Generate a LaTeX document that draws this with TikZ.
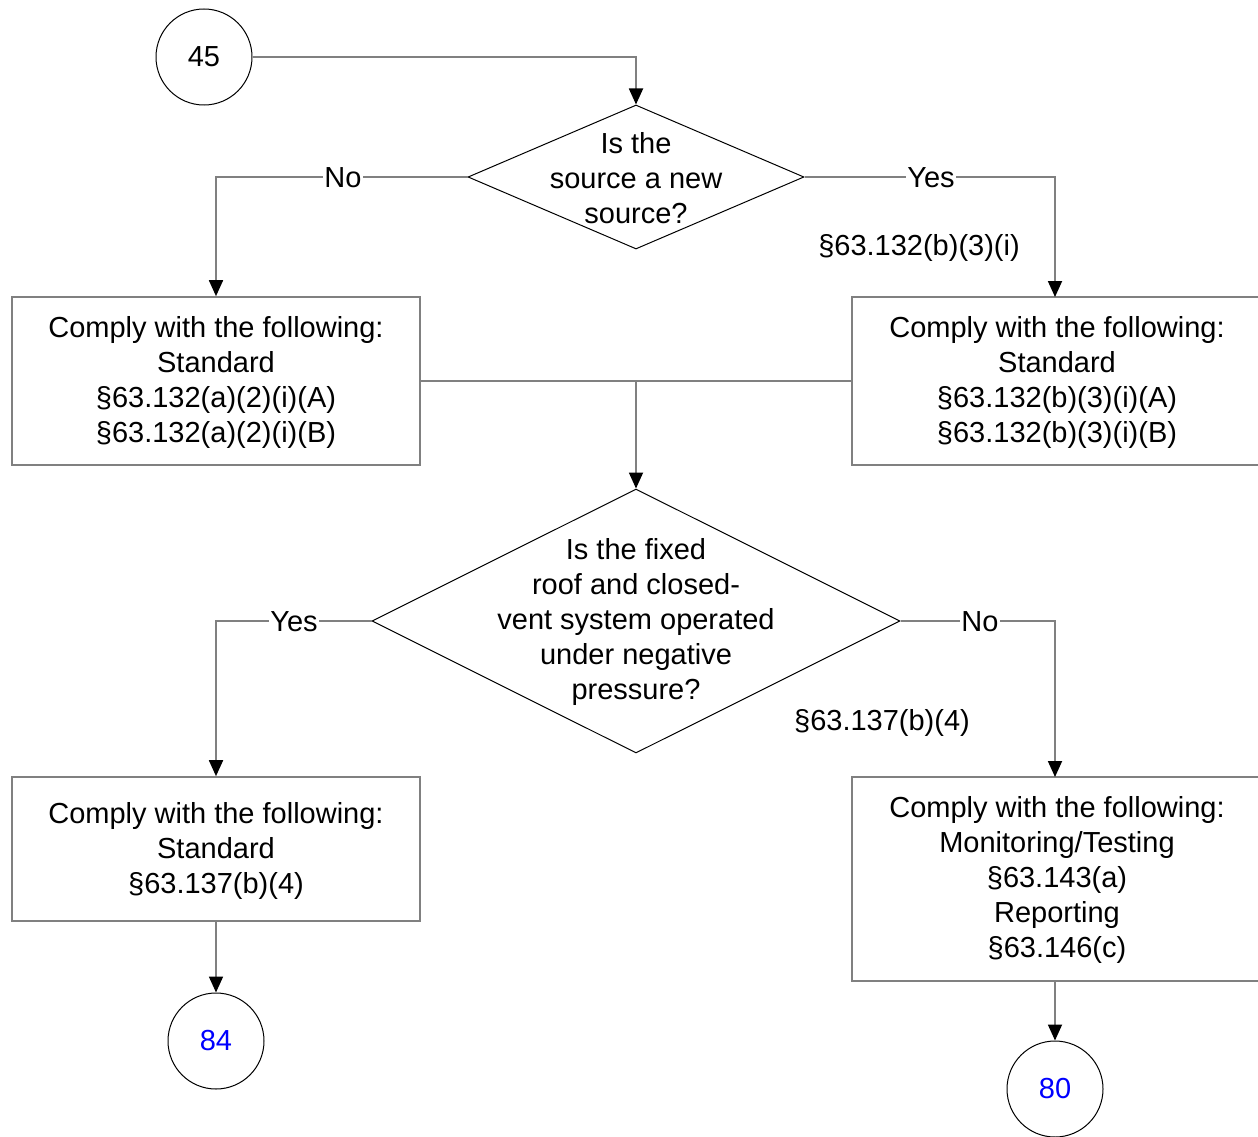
\documentclass[tikz,border=0pt]{standalone}
\usepackage{fontspec}
\setmainfont{Liberation Sans}
\usetikzlibrary{shapes.geometric,arrows.meta}
\definecolor{linegray}{RGB}{128,128,128}
\definecolor{numblue}{RGB}{0,0,255}
\begin{document}
\begin{tikzpicture}[x=1pt,y=-1pt,
  every node/.style={font=\fontsize{29}{35}\selectfont},
  circ/.style={circle,draw=black,line width=1pt,minimum size=96pt,inner sep=0pt},
  dia/.style={diamond,draw=black,line width=1pt,inner sep=0pt},
  box/.style={rectangle,draw=linegray,line width=1.6pt,inner sep=0pt},
  txt/.style={align=center,inner sep=0pt},
  conn/.style={draw=linegray,line width=1.8pt},
  arr/.style={conn,-{Triangle[width=14pt,length=16pt,color=black]}},
  lbl/.style={fill=white,inner sep=1pt}
]
\useasboundingbox (0,0) rectangle (1258,1137);
\fill[white] (0,0) rectangle (1258,1137);

\node[circ] (c45) at (204,57) {45};
\node[dia,minimum width=336pt,minimum height=144pt] (d1) at (636,177) {};
\node[txt] (t1) at (636,178) {Is the\\source a new\\source?};

\node[box,minimum width=408pt,minimum height=168pt] (b1) at (216,381) {};
\node[txt] (tb1) at (216,382) {Comply with the following:\\Standard\\§63.132(a)(2)(i)(A)\\§63.132(a)(2)(i)(B)};
\node[box,minimum width=414pt,minimum height=168pt] (b2) at (1059,381) {};
\node[txt] (tb2) at (1057,382) {Comply with the following:\\Standard\\§63.132(b)(3)(i)(A)\\§63.132(b)(3)(i)(B)};
\coordinate (b2top) at (1055,297);

\node[dia,minimum width=528pt,minimum height=264pt] (d2) at (636,621) {};
\node[txt] (t2) at (636,622) {Is the fixed\\roof and closed-\\vent system operated\\under negative\\pressure?};

\node[box,minimum width=408pt,minimum height=144pt] (b3) at (216,849) {};
\node[txt] (tb3) at (216,851) {Comply with the following:\\Standard\\§63.137(b)(4)};
\node[box,minimum width=414pt,minimum height=204pt] (b4) at (1059,879) {};
\node[txt] (tb4) at (1057,880) {Comply with the following:\\Monitoring/Testing\\§63.143(a)\\Reporting\\§63.146(c)};
\coordinate (b4top) at (1055,777);
\coordinate (b4bot) at (1055,981);

\node[circ,text=numblue] (c84) at (216,1041) {84};
\node[circ,text=numblue] (c80) at (1055,1089) {80};

\coordinate (j) at (636,381);

\draw[arr] (c45.east) -| (d1.north);
\draw[arr] (d1.west) -| (b1.north);
\draw[arr] (d1.east) -| (b2top);
\draw[conn] (b1.east) -- (b2.west);
\draw[arr] (j) -- (d2.north);
\draw[arr] (d2.west) -| (b3.north);
\draw[arr] (d2.east) -| (b4top);
\draw[arr] (b3.south) -- (c84.north);
\draw[arr] (b4bot) -- (c80.north);

\node[lbl] (lno1) at (343,178) {No};
\node[lbl] (lyes1) at (931,178) {Yes};
\node[inner sep=0pt] (ref1) at (919,248) {§63.132(b)(3)(i)};
\node[lbl] (lyes2) at (294,622) {Yes};
\node[lbl] (lno2) at (980,622) {No};
\node[inner sep=0pt] (ref2) at (882,723) {§63.137(b)(4)};
\end{tikzpicture}
\end{document}
